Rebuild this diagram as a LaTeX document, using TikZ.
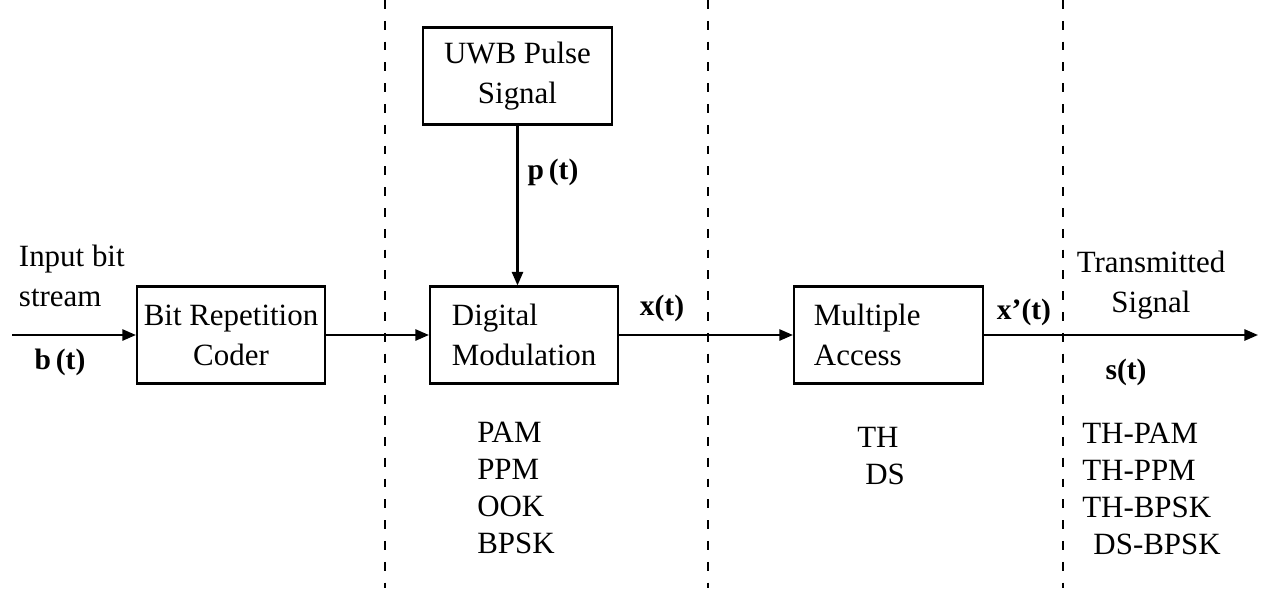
\documentclass[tikz,border=0pt]{standalone}
\usepackage{fontspec}
\setmainfont{Liberation Serif}
\usetikzlibrary{arrows.meta,positioning}
\tikzset{
  blk/.style={draw, line width=1.5pt, minimum height=2.425cm, inner sep=0pt, align=center, font=\fontsize{22}{28.5}\selectfont},
  blkl/.style={blk, align=left},
  sig/.style={font=\fontsize{21}{26}\selectfont\bfseries},
  txt/.style={font=\fontsize{22}{28}\selectfont},
  lst/.style={font=\fontsize{22}{26.3}\selectfont, align=left, anchor=north west, inner sep=0pt},
  arr/.style={-{Triangle[length=0.34cm,width=0.28cm]}, line width=1.5pt},
  sep/.style={line width=1pt, dash pattern=on 0.22cm off 0.3cm},
}

\begin{document}
\begin{tikzpicture}[x=0.025cm, y=-0.025cm]
  \useasboundingbox (0,0) rectangle (1264,588);
  % stage separators
  \foreach \sx in {385,708,1063}
    \draw[sep] (\sx,0) -- (\sx,588);

  \node[blk, minimum width=4.7cm] (rep) at (231,335) {Bit Repetition\\Coder};
  \node[blkl, text width=3.6cm, inner xsep=0.55cm] (mod) at (524,335) {Digital\\Modulation};
  \node[blk, minimum width=4.725cm] (uwb) at (517.5,76) {UWB Pulse\\Signal};
  \node[blkl, text width=3.725cm, inner xsep=0.5cm] (ma) at (888.5,335) {Multiple\\Access};
  \coordinate (in) at (12,335);
  \coordinate (out) at (1258,335);

  \draw[arr] (in) -- (rep);
  \draw[arr] (rep) -- (mod);
  \draw[arr] (uwb.south) -- (uwb.south |- mod.north);
  \draw[arr] (mod) -- (ma);
  \draw[arr] (ma) -- (out);

  % signal names
  \node[txt, align=left, anchor=west] (inlab) at (14,276) {Input bit\\stream};
  \node[sig] (bt) at (60,362) {b\,(t)};
  \node[sig] (pt) at (553,172) {p\,(t)};
  \node[sig] (xt) at (662,308) {x(t)};
  \node[sig] (xpt) at (1024,312) {x’(t)};
  \node[txt, align=center] (txsig) at (1151,285) {Transmitted\\Signal};
  \node[sig] (st) at (1126,372) {s(t)};

  % schemes under each stage
  \node[lst] (modlst) at (477,422) {PAM\\PPM\\OOK\\BPSK};
  \node[lst] (malst) at (857,427) {TH\\\hspace*{0.2cm}DS};
  \node[lst] (txlst) at (1082,423) {TH-PAM\\TH-PPM\\TH-BPSK\\\hspace*{0.28cm}DS-BPSK};
\end{tikzpicture}
\end{document}
